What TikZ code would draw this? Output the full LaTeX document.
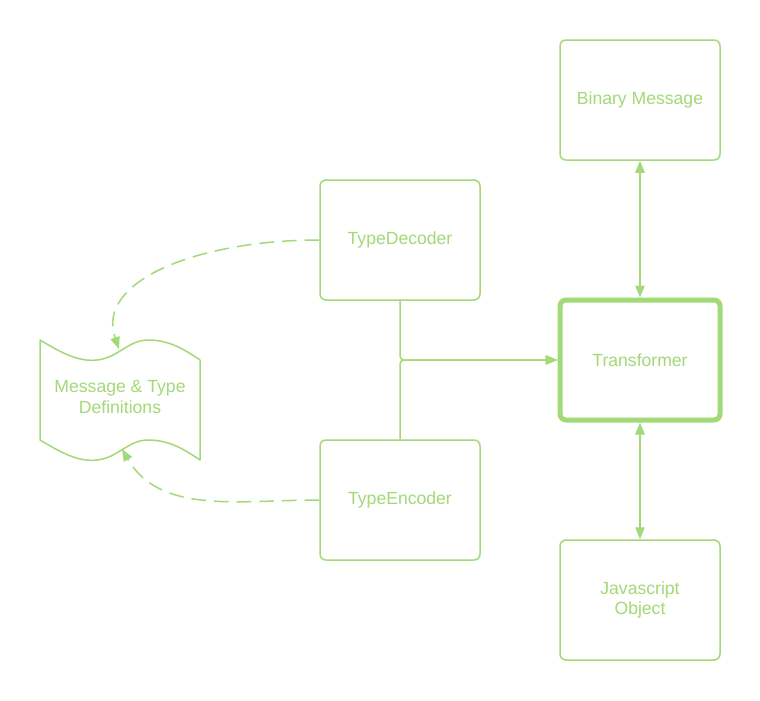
\documentclass[tikz,border=0pt]{standalone}
\usepackage{fontspec}
\setmainfont{Liberation Sans}
\usetikzlibrary{arrows.meta}
\definecolor{leaf}{HTML}{A3D977}
\begin{document}
\begin{tikzpicture}[x=0.75pt,y=-0.75pt,
  font=\fontsize{13.2}{15.5}\selectfont,
  box/.style={draw=leaf,line width=1.5pt*0.75,rounded corners=4.5pt,
    minimum width=160*0.75pt,minimum height=120*0.75pt,inner sep=0pt,
    text=leaf,align=center},
  heavy/.style={box,line width=5*0.75pt},
  tip/.style={-{Triangle[length=9pt,width=7pt]}},
  link/.style={draw=leaf,line width=1.5*0.75pt,tip},
  twoway/.style={link,{Triangle[length=9pt,width=7pt]}-{Triangle[length=9pt,width=7pt]}},
  dashlink/.style={link,dash pattern=on 11pt off 6pt}]
\useasboundingbox[fill=white] (0,0) rectangle (760,700);

% boxes
\node[box]   (bin)  at (640,100) {Binary Message};
\node[box]   (dec)  at (400,240) {TypeDecoder};
\node[heavy] (tr)   at (640,360) {Transformer};
\node[box]   (enc)  at (400,500) {TypeEncoder};
\node[box]   (js)   at (640,600) {Javascript\\Object};

% tape-shaped definitions node
\coordinate (tl) at (40,340);
\coordinate (tr2) at (200,360);
\coordinate (bl) at (40,440);
\coordinate (br) at (200,460);
\draw[leaf,line width=1.5*0.75pt,line join=round]
  (tl) .. controls (62,353) and (78,362) .. (97,360)
       .. controls (118,358) and (128,340) .. (148,340)
       .. controls (170,340) and (185,350) .. (tr2)
  -- (br)
       .. controls (185,450) and (170,440) .. (148,440)
       .. controls (128,440) and (118,458) .. (97,460)
       .. controls (78,462) and (62,453) .. (bl)
  -- cycle;
\node[text=leaf,align=center] (defs) at (120,397) {Message \& Type\\Definitions};
\coordinate (defsin)  at (119,349);
\coordinate (defsout) at (122,449);

% solid connectors into the transformer
\draw[link,rounded corners=3pt] (dec.south) |- (tr.west);
\draw[link,rounded corners=3pt] (enc.north) |- (tr.west);
\draw[twoway] (bin.south) -- (tr.north);
\draw[twoway] (tr.south) -- (js.north);

% dashed connectors to the definitions
\draw[dashlink] (dec.west) .. controls (200,240) and (95,280) .. (defsin);
\draw[dashlink] (enc.west) .. controls (240,500) and (160,515) .. (defsout);
\end{tikzpicture}
\end{document}
